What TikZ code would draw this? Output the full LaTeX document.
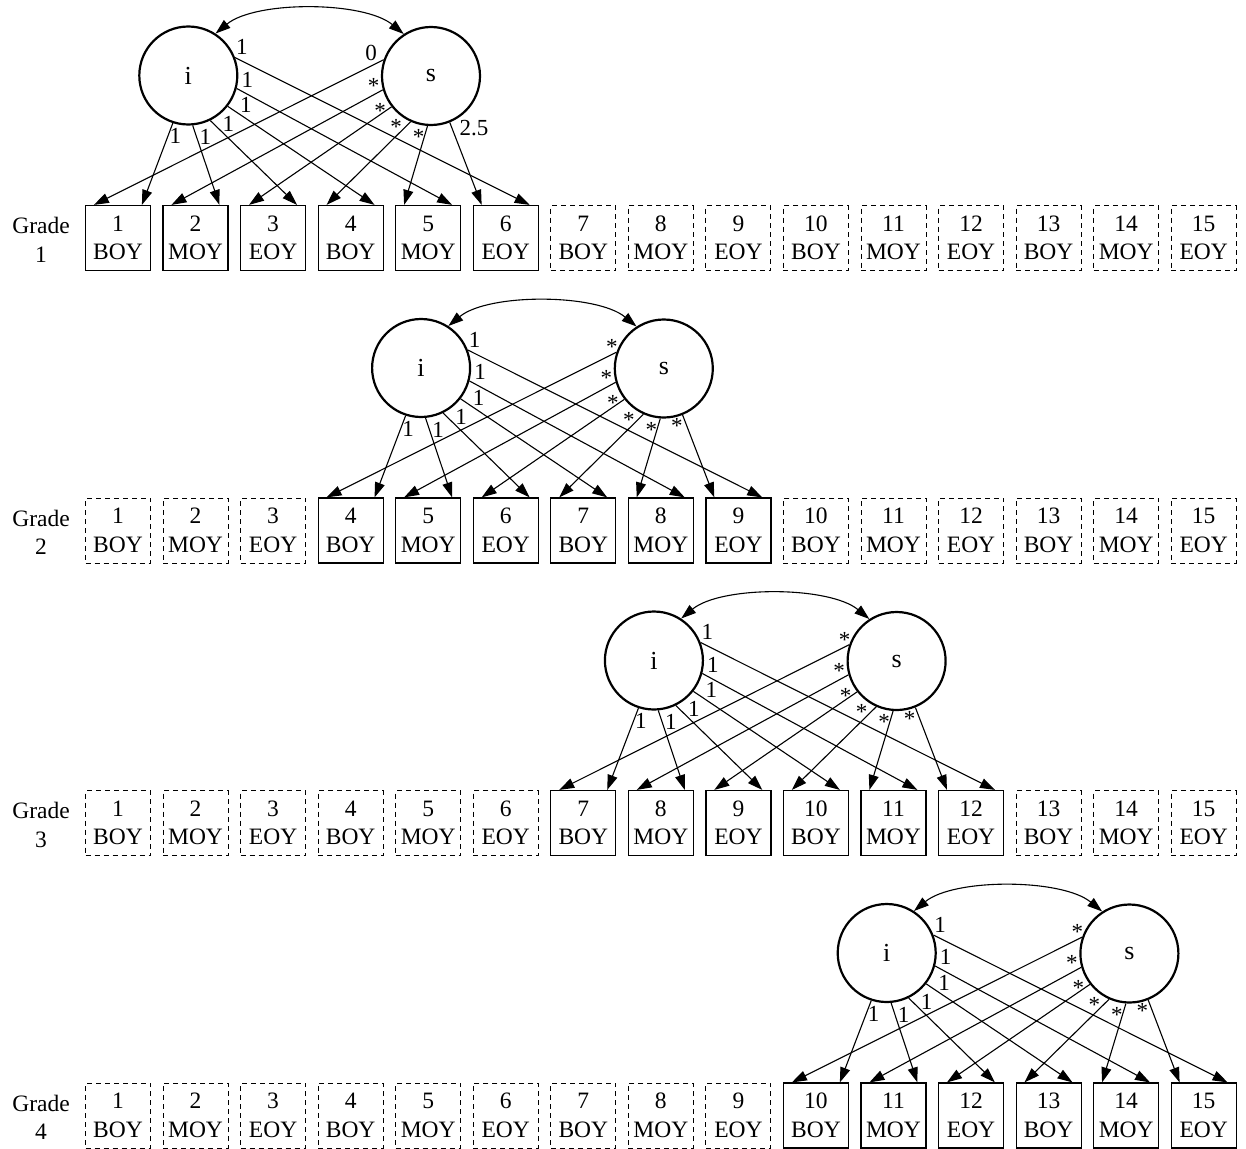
\documentclass[tikz,border=0pt]{standalone}
\usepackage{fontspec}
\setmainfont{Liberation Serif}
\usetikzlibrary{arrows.meta,calc}

\begin{document}
\begin{tikzpicture}[x=1pt,y=-1pt,
  font=\fontsize{23.5}{28.5}\selectfont,
  obsbox/.style={draw, line width=1.2pt, minimum width=65pt, minimum height=65pt,
    inner sep=0pt, align=center},
  ghostbox/.style={obsbox, line width=0.9pt, dash pattern=on 5pt off 4pt},
  latent/.style={draw, circle, line width=2.2pt, minimum size=98pt, inner sep=0pt,
    font=\fontsize{26}{30}\selectfont},
  load/.style={line width=1.1pt, -{Triangle[length=15pt,width=10pt]}},
  cov/.style={line width=1.1pt, {Triangle[length=15pt,width=10pt]}-{Triangle[length=15pt,width=10pt]}},
  coef/.style={anchor=base, inner sep=0pt, font=\fontsize{23}{27}\selectfont},
  gradelbl/.style={align=center, inner sep=0pt},
]
\useasboundingbox (0,0) rectangle (1246,1148);

\foreach \r in {0,...,3}{
  \pgfmathsetmacro\dx{\r*232.8}
  \pgfmathsetmacro\dy{\r*292.5}
  \pgfmathtruncatemacro\g{\r+1}
  % grade label
  \node[gradelbl] (g\r) at (41,240+\dy) {Grade\\\g};
  % the fifteen measurement occasions
  \foreach \k in {1,...,15}{
    \pgfmathsetmacro\x{118+(\k-1)*77.55}
    \pgfmathtruncatemacro\m{mod(\k-1,3)}
    \ifcase\m \def\per{BOY}\or \def\per{MOY}\else \def\per{EOY}\fi
    \pgfmathtruncatemacro\on{and(\k>3*\r, \k<3*\r+7)}
    \ifnum\on=1 \tikzset{bx/.style=obsbox}\else \tikzset{bx/.style=ghostbox}\fi
    \node[bx] (b\r-\k) at (\x,238+\dy) {\k\\\per};
  }
  % latent intercept and slope
  \node[latent] (i\r) at (188.3+\dx,75.5+\dy) {i};
  \node[latent] (s\r) at (431+\dx,76+\dy) {s};
  % covariance
  \draw[cov] (i\r.57) .. controls +(40,-33) and +(-40,-33) .. (s\r.123);
  % loadings
  \foreach \j/\ai/\as in {1/252/161, 2/275/196, 3/296/218, 4/322/246, 5/345/266, 6/21/292}{
    \pgfmathtruncatemacro\k{3*\r+\j}
    \draw[load] (i\r.\ai) -- ([xshift=57pt]b\r-\k.north west);
    \draw[load] (s\r.\as) -- ([xshift=9pt]b\r-\k.north west);
  }
  % intercept loadings
  \foreach \j/\lx/\ly in {1/-13/68, 2/17/69, 3/40/56, 4/57.5/37, 5/59/11.5, 6/53.5/-21}{
    \node[coef] (li\r-\j) at ($(i\r)+(\lx,\ly)$) {1};
  }
  % slope loadings
  \ifnum\r=0
    \def\slabels{1/-60/-15.5/0, 2/-57.5/17/*, 3/-51/42/*, 4/-35/58.5/*, 5/-12.5/68.5/*, 6/43/59.5/2.5}
  \else
    \def\slabels{1/-52/-14/*, 2/-57.5/17/*, 3/-51/42/*, 4/-35/58.5/*, 5/-12.5/68.5/*, 6/13/65/*}
  \fi
  \foreach \j/\lx/\ly/\lab in \slabels{
    \node[coef] (ls\r-\j) at ($(s\r)+(\lx,\ly)$) {\lab};
  }
}
\end{tikzpicture}
\end{document}
